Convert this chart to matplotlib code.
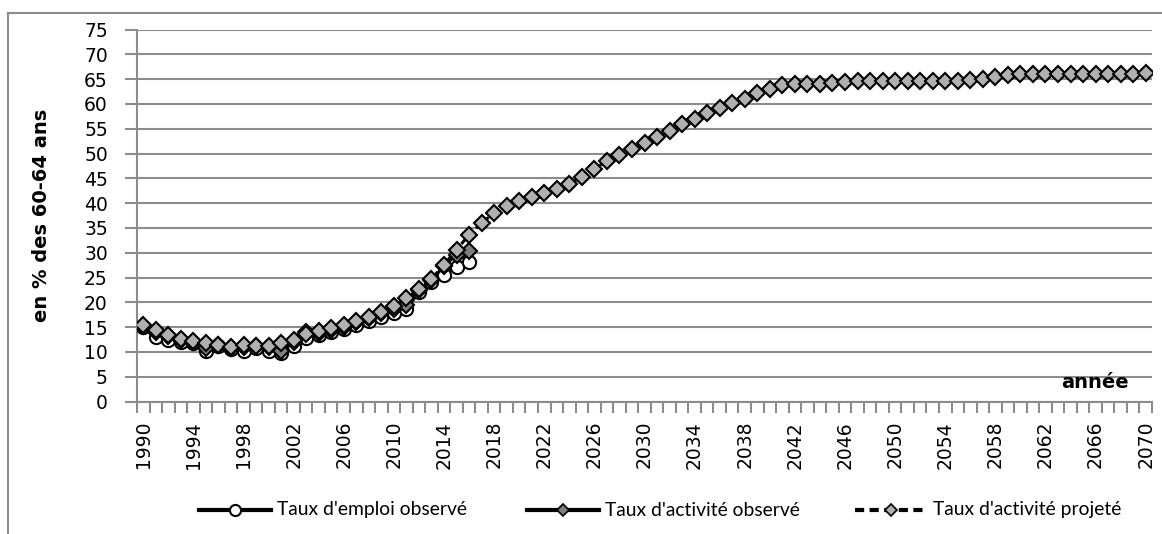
import matplotlib
matplotlib.use("Agg")
import matplotlib.pyplot as plt
from matplotlib.lines import Line2D
from matplotlib.font_manager import FontProperties
import numpy as np

plt.rcParams["font.family"] = "DejaVu Sans"

years = list(range(1990, 2071))

# Taux d'emploi observé (1990-2016)
emploi_obs = [15.0, 13.0, 12.3, 11.9, 11.8, 10.2, 11.1, 10.5, 10.2, 10.8, 10.2, 9.7,
              11.2, 12.9, 13.5, 14.0, 14.6, 15.5, 16.3, 17.0, 17.8, 18.7, 22.0,
              24.1, 25.6, 27.2, 28.1]

# Taux d'activité observé (1990-2016)
activite_obs = [15.2, 14.1, 13.2, 12.5, 12.0, 10.8, 11.3, 10.8, 11.0, 11.1, 10.9, 10.1,
                12.0, 14.0, 13.9, 14.5, 15.1, 16.0, 16.8, 17.8, 18.7, 19.5, 22.4,
                24.5, 27.3, 29.6, 30.4]

# Taux d'activité projeté (1990-2070)
activite_proj = [15.4, 14.4, 13.5, 12.7, 12.2, 11.8, 11.4, 11.0, 11.3, 11.2, 11.2, 11.8,
                 12.3, 13.6, 14.2, 14.9, 15.5, 16.3, 17.1, 18.1, 19.2, 20.9, 22.6,
                 24.7, 27.6, 30.6, 33.6, 36.0, 38.0, 39.5, 40.5, 41.3, 42.1, 42.8,
                 43.9, 45.3, 46.9, 48.5, 49.7, 51.0, 52.2, 53.3, 54.5, 55.9, 56.9,
                 58.1, 59.1, 60.1, 61.0, 62.1, 63.1, 63.8, 64.1, 64.1, 64.1, 64.3,
                 64.4, 64.6, 64.6, 64.6, 64.6, 64.6, 64.6, 64.6, 64.6, 64.6, 64.8,
                 65.0, 65.5, 65.8, 66.0, 66.0, 66.0, 66.0, 66.0, 66.0, 66.0, 66.0,
                 66.1, 66.1, 66.3]

labels = ["Taux d'emploi observé", "Taux d'activité observé", "Taux d'activité projeté"]
ylabel = "en % des 60-64 ans"
xlabel = "année"

W, H = 1162, 534
fig = plt.figure(figsize=(W / 100, H / 100), dpi=100)
fig.patch.set_facecolor("white")

left_px, right_px, top_px, bot_px = 137, 1152, 29.5, 401.5
ax = fig.add_axes([left_px / W, 1 - bot_px / H, (right_px - left_px) / W, (bot_px - top_px) / H])

grid_c = "#8c8c8c"
n = len(years)
x_all = np.arange(n)
ax.set_xlim(-0.5, n - 0.5)
ax.set_ylim(0, 75)

ax.set_yticks(np.arange(0, 76, 5))
ax.yaxis.grid(True, color=grid_c, linewidth=1.5)
ax.set_axisbelow(True)

ax.set_xticks(np.arange(-0.5, n, 1), minor=True)
lab_idx = [i for i, y in enumerate(years) if (y - 1990) % 4 == 0]
ax.set_xticks(lab_idx)
ax.set_xticklabels([str(years[i]) for i in lab_idx], rotation=90)
ax.tick_params(axis="x", which="major", length=0, pad=14, labelsize=13.5)
ax.tick_params(axis="x", which="minor", length=8, width=1.5, color=grid_c)
ax.tick_params(axis="y", which="major", length=9, width=1.5, color=grid_c,
               labelsize=13.5, pad=12)
for lbl in ax.get_xticklabels() + ax.get_yticklabels():
    lbl.set_fontfamily("DejaVu Sans")

for s in ["top", "right"]:
    ax.spines[s].set_visible(False)
for s in ["left", "bottom"]:
    ax.spines[s].set_color(grid_c)
    ax.spines[s].set_linewidth(1.5)

ms = 9.5
x_obs = np.arange(len(emploi_obs))
ax.plot(x_obs, emploi_obs, color="black", lw=2.2, marker="o", ms=ms,
        mfc="white", mec="black", mew=1.5, zorder=3)
ax.plot(x_obs, activite_obs, color="black", lw=2.2, marker="D", ms=ms - 1,
        mfc="#7f7f7f", mec="black", mew=1.5, zorder=4)
ax.plot(x_all, activite_proj, color="black", lw=2.2, ls=(0, (2, 1.5)), marker="D",
        ms=ms - 1, mfc="#b0b0b0", mec="black", mew=1.5, zorder=5)

ax.set_ylabel(ylabel, fontsize=14, fontweight="bold", labelpad=24, fontfamily="DejaVu Sans")
ax.text(0.944, 0.05, xlabel, transform=ax.transAxes, fontsize=14, fontfamily="DejaVu Sans",
        fontweight="bold", ha="center", va="center")

# outer chart border (top and left visible)
fig.add_artist(Line2D([8 / W, 1], [1 - 13 / H, 1 - 13 / H], color=grid_c, lw=1.5))
fig.add_artist(Line2D([8 / W, 8 / W], [0, 1 - 13 / H], color=grid_c, lw=1.5))

# legend drawn in figure pixels
leg_family = ["Lato", "DejaVu Sans"]
renderer = fig.canvas.get_renderer()
t = fig.text(0, 0, labels[0], fontproperties=FontProperties(family=leg_family, size=12))
w0 = t.get_window_extent(renderer).width
t.remove()
fs = 12 * 190 / w0

leg_y = 1 - 510 / H
leg_line_x = [199, 527, 855]
leg_styles = [
    dict(ls="-", marker="o", ms=8, mfc="white", mew=1.5),
    dict(ls="-", marker="D", ms=6, mfc="#7f7f7f", mew=1.2),
    dict(ls=(0, (2.2, 1.3)), marker="D", ms=6, mfc="#b0b0b0", mew=1.2),
]
for x0, st, lab in zip(leg_line_x, leg_styles, labels):
    fig.add_artist(Line2D([x0 / W, (x0 + 72) / W], [leg_y, leg_y], color="black", lw=3,
                          ls=st["ls"]))
    fig.add_artist(Line2D([(x0 + 36) / W], [leg_y], ls="none", marker=st["marker"],
                          ms=st["ms"], mfc=st["mfc"], mec="black", mew=st["mew"]))
    fig.text((x0 + 78) / W, leg_y, lab, ha="left", va="center",
             fontproperties=FontProperties(family=leg_family, size=fs))

fig.savefig("out.png", dpi=100)
